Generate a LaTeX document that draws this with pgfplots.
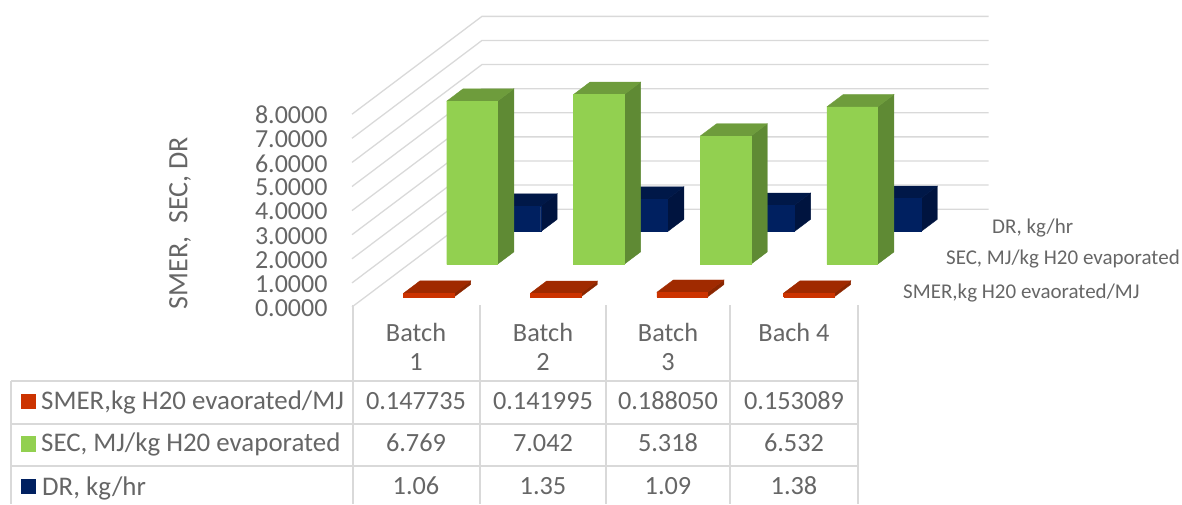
\documentclass[border=0pt]{standalone}
\usepackage{fontspec}
\setmainfont{Carlito}
\usepackage{pgfplots}
\pgfplotsset{compat=1.18}

\definecolor{gridc}{HTML}{D9D9D9}
\definecolor{txt}{HTML}{666666}
\definecolor{redF}{HTML}{CC3300}
\definecolor{redS}{HTML}{8A2600}
\definecolor{redT}{HTML}{A02A00}
\definecolor{greenF}{HTML}{92D050}
\definecolor{greenS}{HTML}{5F8A34}
\definecolor{greenT}{HTML}{6E9C3C}
\definecolor{blueF}{HTML}{002060}
\definecolor{blueS}{HTML}{00143F}
\definecolor{blueT}{HTML}{001848}

% #1 category, #2 depth row, #3 value, #4 colour prefix
\newcommand{\cuboid}[4]{%
  \pgfmathsetmacro{\xa}{#1+0.3}\pgfmathsetmacro{\xb}{#1+0.7}%
  \pgfmathsetmacro{\ya}{#2+0.31}\pgfmathsetmacro{\yb}{#2+0.69}%
  \addplot3[draw=#4S,line width=0.4pt,fill=#4S] coordinates {(\xb,\ya,0) (\xb,\yb,0) (\xb,\yb,#3) (\xb,\ya,#3) (\xb,\ya,0)};
  \addplot3[draw=#4T,line width=0.4pt,fill=#4T] coordinates {(\xa,\ya,#3) (\xb,\ya,#3) (\xb,\yb,#3) (\xa,\yb,#3) (\xa,\ya,#3)};
  \addplot3[draw=#4F,line width=0.4pt,fill=#4F] coordinates {(\xa,\ya,0) (\xb,\ya,0) (\xb,\ya,#3) (\xa,\ya,#3) (\xa,\ya,0)};
}

\begin{document}
\begin{tikzpicture}[x=1pt,y=1pt]
\path[use as bounding box] (0,0) rectangle (1182,504);

\begin{axis}[
  at={(352pt,197pt)},anchor=origin,
  x={(126.7pt,0pt)},y={(43.3pt,32.6pt)},z={(0pt,24.1pt)},
  xmin=0,xmax=4,ymin=0,ymax=3,zmin=0,zmax=8,
  clip=false,
  hide x axis,hide y axis,
  axis z line*=left,
  z axis line style={draw=none},
  major tick length=0pt,
  ztick={0,1,2,3,4,5,6,7,8},
  zticklabel style={anchor=east,xshift=-21pt,yshift=-1pt,text=txt,
    font=\fontsize{26}{26}\selectfont,
    /pgf/number format/fixed,/pgf/number format/fixed zerofill,
    /pgf/number format/precision=4,/pgf/number format/assume math mode=true},
]
\pgfplotsinvokeforeach{0,1,2,3,4,5,6,7,8}{
  \addplot3[gridc,line width=1.3pt] coordinates {(0,0,#1) (0,3,#1) (4,3,#1)};
}

% back row: DR
\cuboid{0}{2}{1.06}{blue}
\cuboid{1}{2}{1.35}{blue}
\cuboid{2}{2}{1.09}{blue}
\cuboid{3}{2}{1.38}{blue}
% middle row: SEC
\cuboid{0}{1}{6.769}{green}
\cuboid{1}{1}{7.042}{green}
\cuboid{2}{1}{5.318}{green}
\cuboid{3}{1}{6.532}{green}
% front row: SMER
\cuboid{0}{0}{0.147735}{red}
\cuboid{1}{0}{0.141995}{red}
\cuboid{2}{0}{0.188050}{red}
\cuboid{3}{0}{0.153089}{red}
\end{axis}

\begin{scope}[yshift=504pt,y=-1pt]
\node[rotate=90,text=txt,font=\fontsize{28}{28}\selectfont] at (180,223) {SMER,\ \ SEC, DR};

\begin{scope}[text=txt,font=\fontsize{21}{21}\selectfont]
\node[anchor=west,inner sep=0pt] at (992,228) {DR, kg/hr};
\node[anchor=west,inner sep=0pt] at (946,259) {SEC, MJ/kg H20 evaporated};
\node[anchor=west,inner sep=0pt] at (903,293) {SMER,kg H20 evaorated/MJ};
\end{scope}

% data table
\draw[gridc,line width=1.3pt]
  (353,305) -- (353,504) (480,305) -- (480,504) (606,305) -- (606,504)
  (730,305) -- (730,504) (858,305) -- (858,504)
  (11,381) -- (858,381) (11,424) -- (858,424) (11,466) -- (858,466)
  (11,381) -- (11,504);
\fill[redF] (21,394) rectangle (36,409);
\fill[greenF] (21,436) rectangle (36,452);
\fill[blueF] (21,479) rectangle (36,494);

\begin{scope}[text=txt,font=\fontsize{26.9}{26.9}\selectfont]
\node[anchor=west,inner sep=0pt] at (41,402) {SMER,kg H20 evaorated/MJ};
\node[anchor=west,inner sep=0pt] at (41,444) {SEC, MJ/kg H20 evaporated};
\node[anchor=west,inner sep=0pt] at (42,488) {DR, kg/hr};
\end{scope}
\begin{scope}[text=txt,font=\fontsize{26.3}{26.3}\selectfont]
\node at (416,332) {Batch};
\node at (416,362) {1};
\node at (543,332) {Batch};
\node at (543,362) {2};
\node at (668,332) {Batch};
\node at (668,362) {3};
\node at (794,332) {Bach 4};
\node at (416,401) {0.147735};
\node at (543,401) {0.141995};
\node at (668,401) {0.188050};
\node at (794,401) {0.153089};
\node at (416,443) {6.769};
\node at (543,443) {7.042};
\node at (668,443) {5.318};
\node at (794,443) {6.532};
\node at (416,486) {1.06};
\node at (543,486) {1.35};
\node at (668,486) {1.09};
\node at (794,486) {1.38};
\end{scope}
\end{scope}
\end{tikzpicture}
\end{document}
